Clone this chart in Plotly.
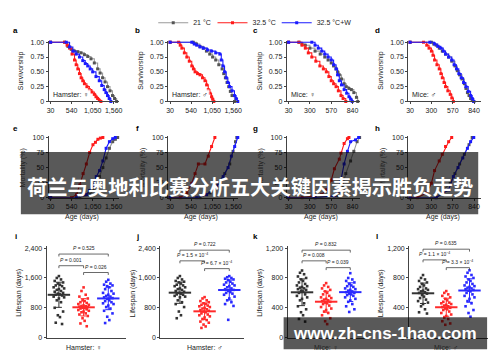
import numpy as np
import plotly.graph_objects as go

# the page body has an 8px margin: the figure is drawn 8px right/down in the 500x362 window
OFF = 8
W, H = 500 - OFF, 362 - OFF
def P(px): return (px - OFF) / W
def Q(py): return 1 - (py - OFF) / H

# ---------------- DATA ----------------
groups = ["21 °C", "32.5 °C", "32.5 °C+W"]
hamster_ticks = [30, 540, 1050, 1560]
hamster_ticktext = ["30", "540", "1,050", "1,560"]
mice_ticks = [30, 300, 570, 840]
mice_ticktext = ["30", "300", "570", "840"]

# survivorship (a-d)
a_21_age = [30, 370, 450, 530, 610, 690, 770, 850, 930, 1010, 1090, 1170, 1230, 1290, 1350, 1410, 1470, 1530, 1580, 1630]
a_21_surv = [1.0, 1.0, 0.93, 0.88, 0.85, 0.84, 0.82, 0.79, 0.76, 0.72, 0.65, 0.55, 0.48, 0.40, 0.33, 0.25, 0.18, 0.10, 0.05, 0.0]
a_325_age = [30, 370, 430, 490, 550, 610, 650, 690, 730, 770, 810, 850, 910, 970, 1030, 1090, 1130, 1170, 1210, 1250]
a_325_surv = [1.0, 1.0, 0.95, 0.90, 0.80, 0.70, 0.62, 0.55, 0.47, 0.40, 0.35, 0.30, 0.25, 0.20, 0.16, 0.12, 0.08, 0.05, 0.02, 0.0]
a_325w_age = [30, 410, 490, 570, 650, 730, 810, 870, 930, 990, 1050, 1130, 1210, 1270, 1330, 1370, 1410, 1450, 1490]
a_325w_surv = [1.0, 1.0, 0.92, 0.85, 0.80, 0.75, 0.69, 0.64, 0.60, 0.55, 0.50, 0.42, 0.35, 0.27, 0.20, 0.15, 0.10, 0.05, 0.0]

b_21_age = [30, 590, 670, 750, 835, 910, 990, 1060, 1135, 1210, 1290, 1330, 1370, 1410, 1450, 1490, 1530, 1590]
b_21_surv = [1, 1, 0.97, 0.93, 0.9, 0.85, 0.8, 0.75, 0.7, 0.62, 0.55, 0.47, 0.4, 0.32, 0.25, 0.17, 0.1, 0]
b_325_age = [30, 235, 275, 315, 375, 435, 495, 555, 595, 635, 695, 755, 815, 875, 915, 955, 995, 1035, 1060, 1090]
b_325_surv = [1, 1, 0.95, 0.9, 0.82, 0.75, 0.68, 0.6, 0.55, 0.5, 0.47, 0.45, 0.4, 0.35, 0.28, 0.2, 0.14, 0.08, 0.04, 0]
b_325w_age = [30, 555, 615, 675, 755, 835, 935, 1035, 1135, 1235, 1270, 1310, 1350, 1390, 1430, 1470, 1530, 1590, 1630, 1670]
b_325w_surv = [1, 1, 0.97, 0.95, 0.92, 0.9, 0.87, 0.85, 0.82, 0.8, 0.7, 0.6, 0.5, 0.4, 0.32, 0.25, 0.18, 0.1, 0.05, 0]

c_21_age = [30, 161, 200, 242, 300, 365, 430, 488, 530, 570, 600, 631, 650, 672, 700, 733, 760, 794, 825, 856, 889, 905]
c_21_surv = [1, 1, 0.97, 0.95, 0.9, 0.85, 0.8, 0.75, 0.7, 0.65, 0.6, 0.55, 0.5, 0.45, 0.38, 0.3, 0.25, 0.22, 0.2, 0.15, 0.07, 0]
c_325_age = [30, 161, 200, 242, 280, 324, 375, 426, 470, 508, 540, 570, 600, 631, 660, 693, 720, 754]
c_325_surv = [1, 1, 0.95, 0.9, 0.82, 0.75, 0.68, 0.6, 0.55, 0.5, 0.42, 0.35, 0.3, 0.25, 0.18, 0.1, 0.05, 0]
c_325w_age = [30, 324, 365, 406, 450, 488, 530, 570, 600, 631, 650, 672, 700, 733, 765, 794, 815, 836]
c_325w_surv = [1, 1, 0.95, 0.9, 0.85, 0.8, 0.75, 0.7, 0.62, 0.55, 0.45, 0.35, 0.28, 0.2, 0.14, 0.08, 0.04, 0]

d_21_age = [30, 300, 330, 360, 400, 438, 478, 518, 558, 598, 628, 657, 687, 717, 737, 756, 776, 796, 816, 836]
d_21_surv = [1, 1, 0.97, 0.95, 0.9, 0.85, 0.8, 0.75, 0.68, 0.6, 0.52, 0.45, 0.38, 0.3, 0.22, 0.15, 0.1, 0.05, 0.03, 0]
d_325_age = [30, 200, 241, 270, 300, 320, 340, 370, 399, 420, 438, 460, 479, 508, 538, 558, 578]
d_325_surv = [1, 1, 0.95, 0.9, 0.85, 0.78, 0.7, 0.62, 0.55, 0.47, 0.4, 0.32, 0.25, 0.18, 0.12, 0.06, 0]
d_325w_age = [30, 280, 340, 380, 418, 450, 479, 518, 557, 587, 617, 647, 677, 707, 736, 766, 796, 816, 836]
d_325w_surv = [1, 1, 0.97, 0.93, 0.9, 0.85, 0.8, 0.75, 0.7, 0.62, 0.55, 0.47, 0.4, 0.32, 0.25, 0.17, 0.1, 0.05, 0]

# mortality (e-h), %
e_21_age = [30, 738, 977, 1057, 1137, 1217, 1297, 1376, 1456, 1536, 1600, 1656]
e_21_mort = [0, 0, 5, 12, 19, 35, 50, 66, 82, 93, 97, 100]
e_325_age = [30, 538, 658, 738, 818, 897, 977, 1057, 1117, 1177, 1237, 1297]
e_325_mort = [0, 0, 5, 21, 40, 56, 75, 88, 92, 97, 99, 100]
e_325w_age = [30, 658, 897, 977, 1057, 1137, 1217, 1297, 1376, 1456, 1536, 1600]
e_325w_mort = [0, 0, 5, 12, 19, 35, 45, 61, 82, 93, 98, 100]

f_21_age = [30, 755, 995, 1195, 1355, 1475, 1555, 1615, 1647]
f_21_mort = [0, 0, 8, 24, 40, 56, 77, 93, 100]
f_325_age = [30, 275, 435, 555, 635, 715, 875, 955, 1035, 1115]
f_325_mort = [0, 0, 8, 24, 40, 56, 56, 69, 85, 100]
f_325w_age = [30, 675, 915, 1155, 1315, 1435, 1515, 1595, 1670]
f_325w_mort = [0, 0, 5, 19, 35, 50, 69, 85, 100]

g_21_age = [30, 365, 652, 713, 754, 815, 856, 897, 929]
g_21_mort = [0, 0, 3, 19, 40, 61, 77, 93, 100]
g_325_age = [30, 202, 447, 508, 570, 610, 672, 693, 733, 775, 794]
g_325_mort = [0, 0, 5, 13, 29, 48, 64, 74, 90, 98, 100]
g_325w_age = [30, 365, 610, 652, 693, 733, 775, 815, 877, 917]
g_325w_mort = [0, 0, 3, 11, 29, 56, 77, 93, 96, 100]

h_21_age = [30, 360, 538, 598, 657, 717, 776, 816]
h_21_mort = [0, 0, 24, 40, 56, 72, 88, 100]
h_325_age = [30, 122, 241, 300, 340, 399, 438, 479, 518, 557]
h_325_mort = [0, 0, 8, 24, 45, 61, 72, 85, 93, 100]
h_325w_age = [30, 360, 518, 578, 637, 697, 756, 796, 836]
h_325w_mort = [0, 0, 13, 35, 50, 66, 82, 93, 100]

# lifespan (i-l), days
i_21 = [1650, 1600, 1560, 1520, 1480, 1450, 1420, 1400, 1380, 1350, 1320, 1300, 1280, 1250, 1230, 1200, 1180, 1160, 1150, 1130, 1100, 1080, 1050, 1000, 950, 800, 700, 600, 550, 400, 365]
i_325 = [1347, 1250, 1150, 1100, 1050, 1000, 980, 950, 930, 900, 880, 860, 850, 840, 830, 820, 800, 790, 780, 760, 740, 720, 700, 680, 650, 620, 580, 520, 450, 380, 305]
i_325w = [1550, 1500, 1450, 1420, 1400, 1380, 1350, 1300, 1250, 1200, 1180, 1150, 1120, 1100, 1080, 1060, 1040, 1000, 980, 950, 920, 900, 860, 820, 780, 720, 650, 560, 470, 391]
j_21 = [1650, 1600, 1560, 1520, 1500, 1480, 1450, 1420, 1400, 1380, 1350, 1320, 1300, 1280, 1250, 1230, 1200, 1180, 1160, 1150, 1120, 1100, 1080, 1000, 950, 900, 820, 700, 600, 520]
j_325 = [1086, 1050, 1000, 980, 950, 920, 900, 880, 860, 840, 820, 800, 780, 760, 740, 720, 700, 680, 650, 620, 600, 570, 540, 500, 470, 430, 400, 350, 300, 260]
j_325w = [1650, 1620, 1600, 1580, 1560, 1540, 1500, 1480, 1450, 1420, 1400, 1380, 1350, 1320, 1300, 1280, 1250, 1220, 1200, 1180, 1150, 1100, 1050, 1000, 950, 900, 850, 477]
k_21 = [900, 870, 850, 820, 800, 780, 760, 740, 720, 700, 690, 680, 670, 660, 650, 640, 630, 620, 600, 580, 560, 540, 520, 500, 460, 420, 380, 340, 300, 250, 215]
k_325 = [731, 700, 680, 660, 640, 620, 600, 580, 560, 540, 530, 520, 510, 500, 490, 480, 470, 460, 450, 430, 410, 390, 370, 350, 330, 300, 260, 220, 181]
k_325w = [864, 800, 780, 760, 740, 720, 700, 690, 680, 660, 650, 640, 630, 620, 610, 600, 590, 580, 570, 560, 540, 520, 500, 480, 450, 420, 380, 344]
l_21 = [839, 800, 780, 760, 740, 720, 700, 680, 660, 650, 640, 630, 620, 610, 600, 590, 570, 550, 530, 510, 490, 470, 450, 420, 380, 340, 323]
l_325 = [624, 600, 580, 560, 540, 520, 500, 480, 470, 460, 450, 440, 430, 420, 410, 400, 390, 380, 370, 350, 330, 310, 290, 270, 250, 220, 190, 172]
l_325w = [903, 870, 840, 820, 800, 780, 760, 740, 720, 700, 690, 680, 670, 660, 650, 640, 630, 620, 600, 580, 560, 540, 520, 490, 460, 420, 370, 330, 280]

hamster_lifespan_ticks = [0, 800, 1600, 2400]
hamster_lifespan_text = ["0", "800", "1,600", "2,400"]
mice_lifespan_ticks = [0, 400, 800, 1200]
mice_lifespan_text = ["0", "400", "800", "1,200"]

p_i = ["0.525", "0.001", "0.026"]
p_j = ["0.722", "1.5 × 10<sup>−4</sup>", "6.7 × 10<sup>−4</sup>"]
p_k = ["0.832", "0.008", "0.039"]
p_l = ["0.635", "1.1 × 10<sup>−4</sup>", "3.3 × 10<sup>−4</sup>"]

# ---------------- STYLE ----------------
FONT = "Liberation Sans, Arial, sans-serif"
line_cols = ["#9a9a9a", "#ff1a1a", "#1a1aff"]
mark_cols = ["#555555", "#ff1a1a", "#1a1aff"]
dot_cols = ["#333333", "#ff2a2a", "#2a2aff"]
AX = "#444444"

fig = go.Figure()

# panel geometry in window pixels
col_x = [(47, 118), (168, 239), (288, 362), (411, 485)]
row1_y = (97, 34.8)   # bottom, top
row2_y = (196, 132.8)
row3_x = [(45, 125, -0.5, 2.7), (160, 245, -0.8, 2.6), (289, 372, -0.6, 2.8), (412, 492, -0.6, 2.8)]
row3_y = (340, 246)

def axname(n):
    return ("x" if n == 1 else f"x{n}"), ("y" if n == 1 else f"y{n}")

def add_axes(n, xdom, ydom, xr, yr, xtv=None, xtt=None, ytv=None, ytt=None):
    common = dict(showline=True, linecolor=AX, linewidth=0.8, ticks="outside", ticklen=2,
                  tickcolor=AX, tickwidth=0.8, showgrid=False, zeroline=False,
                  tickfont=dict(size=7, family=FONT, color="#222"))
    xk = "xaxis" if n == 1 else f"xaxis{n}"
    yk = "yaxis" if n == 1 else f"yaxis{n}"
    xa, ya = axname(n)
    xd = dict(domain=[P(xdom[0]), P(xdom[1])], range=xr, anchor=ya, **common)
    if xtv is not None:
        xd.update(tickmode="array", tickvals=xtv, ticktext=xtt)
    else:
        xd.update(showticklabels=False, ticks="")
    yd = dict(domain=[Q(ydom[0]), Q(ydom[1])], range=yr, anchor=xa,
              tickmode="array", tickvals=ytv, ticktext=ytt, **common)
    fig.update_layout({xk: xd, yk: yd})

surv_sets = [
    [(a_21_age, a_21_surv), (a_325_age, a_325_surv), (a_325w_age, a_325w_surv)],
    [(b_21_age, b_21_surv), (b_325_age, b_325_surv), (b_325w_age, b_325w_surv)],
    [(c_21_age, c_21_surv), (c_325_age, c_325_surv), (c_325w_age, c_325w_surv)],
    [(d_21_age, d_21_surv), (d_325_age, d_325_surv), (d_325w_age, d_325w_surv)],
]
mort_sets = [
    [(e_21_age, e_21_mort), (e_325_age, e_325_mort), (e_325w_age, e_325w_mort)],
    [(f_21_age, f_21_mort), (f_325_age, f_325_mort), (f_325w_age, f_325w_mort)],
    [(g_21_age, g_21_mort), (g_325_age, g_325_mort), (g_325w_age, g_325w_mort)],
    [(h_21_age, h_21_mort), (h_325_age, h_325_mort), (h_325w_age, h_325w_mort)],
]
life_sets = [
    [i_21, i_325, i_325w], [j_21, j_325, j_325w], [k_21, k_325, k_325w], [l_21, l_325, l_325w]
]
p_sets = [p_i, p_j, p_k, p_l]
species = ["Hamster: ♀", "Hamster: ♂", "Mice: ♀", "Mice: ♂"]
legend_ids = ["legend", "legend2", "legend3"]

hx_range = [-20, 1680]
mx_range = [5, 930]

for c in range(4):
    ham = c < 2
    xr = hx_range if ham else mx_range
    tv = hamster_ticks if ham else mice_ticks
    tt = hamster_ticktext if ham else mice_ticktext
    # row 1
    n = c + 1
    add_axes(n, col_x[c], row1_y, xr, [0, 1.02], tv, tt,
             [0, 0.25, 0.5, 0.75, 1.0], ["0", "0.25", "0.50", "0.75", "1.00"])
    xa, ya = axname(n)
    for g in range(3):
        ages, vals = surv_sets[c][g]
        fig.add_trace(go.Scatter(x=ages, y=vals, mode="lines+markers", line_shape="hv",
                                 line=dict(color=line_cols[g], width=1.1),
                                 marker=dict(symbol="square", size=3, color=mark_cols[g]),
                                 xaxis=xa, yaxis=ya, cliponaxis=False,
                                 name=groups[g], showlegend=(c == 0), legend=legend_ids[g]))
    # row 2
    n = c + 5
    add_axes(n, col_x[c], row2_y, xr, [0, 102], tv, tt,
             [0, 25, 50, 75, 100], ["0", "25", "50", "75", "100"])
    xa, ya = axname(n)
    for g in range(3):
        ages, vals = mort_sets[c][g]
        fig.add_trace(go.Scatter(x=ages, y=vals, mode="lines+markers",
                                 line=dict(color=line_cols[g], width=1.1),
                                 marker=dict(symbol="square", size=3, color=mark_cols[g]),
                                 xaxis=xa, yaxis=ya, cliponaxis=False, showlegend=False))
    # row 3
    n = c + 9
    x0, x1, r0, r1 = row3_x[c]
    ytv = hamster_lifespan_ticks if ham else mice_lifespan_ticks
    ytt = hamster_lifespan_text if ham else mice_lifespan_text
    add_axes(n, (x0, x1), row3_y, [r0, r1], [0, 2450 if ham else 1225], None, None, ytv, ytt)
    xa, ya = axname(n)
    pattern = [0, -1, 1, -2, 2, -0.5, 0.5, -1.5, 1.5, -2.5, 2.5]
    for g in range(3):
        vals = life_sets[c][g]
        xs = [g + pattern[i % len(pattern)] * 0.085 for i in range(len(vals))]
        fig.add_trace(go.Scatter(x=xs, y=vals, mode="markers",
                                 marker=dict(symbol="square", size=2.6, color=dot_cols[g]),
                                 xaxis=xa, yaxis=ya, showlegend=False, cliponaxis=False))
        m = float(np.mean(vals)); s = float(np.std(vals))
        fig.add_trace(go.Scatter(x=[g], y=[m], mode="markers",
                                 marker=dict(symbol="line-ew", size=16,
                                             line=dict(color=dot_cols[g], width=2)),
                                 error_y=dict(type="data", array=[s], color=dot_cols[g],
                                              thickness=1, width=3),
                                 xaxis=xa, yaxis=ya, showlegend=False, cliponaxis=False))

annotations = []
shapes = []

def ann(px, py, text, size=7, color="#222", bold=False, xanchor="center", angle=0, family=FONT, **kw):
    annotations.append(dict(x=P(px), y=Q(py), xref="paper", yref="paper", text=(f"<b>{text}</b>" if bold else text),
                            showarrow=False, xanchor=xanchor, yanchor="middle", textangle=angle,
                            font=dict(size=size, color=color, family=family), **kw))

letters = ["a", "b", "c", "d", "e", "f", "g", "h", "i", "j", "k", "l"]
lx = [14, 137, 257, 380]
for c in range(4):
    ann(lx[c], 24, letters[c], size=8, bold=True, color="#000")
    ann(lx[c], 125, letters[c + 4], size=8, bold=True, color="#000")
    ann(lx[c], 236, letters[c + 8], size=8, bold=True, color="#000")
    ax0 = col_x[c][0]
    ann(ax0 - 27, 65, "Survivorship", size=7, angle=-90)
    ann(ax0 - 26, 165, "Mortality (%)", size=7, angle=-90)
    ann(ax0 + 2, 90, species[c], size=7, xanchor="left", bgcolor="rgba(255,255,255,0.8)")
    ann((col_x[c][0] + col_x[c][1]) / 2 - 2, 216, "Age (days)", size=7)
    x0, x1, r0, r1 = row3_x[c]
    ann(x0 - 28, 294, "Lifespan (days)", size=7, angle=-90)
    xa, ya = axname(c + 9)
    annotations.append(dict(x=1, y=Q(350), xref=xa, yref="paper", text=species[c], showarrow=False,
                            font=dict(size=7, family=FONT, color="#222"), yanchor="middle"))

# significance brackets (row 3)
br_y = [[254, 266, 273], [250, 261, 269], [250, 261, 268], [249, 260, 268]]
pairs = [(0, 2), (0, 1), (1, 2)]
for c in range(4):
    xa, ya = axname(c + 9)
    for k, (g0, g1) in enumerate(pairs):
        yb = br_y[c][k]
        shapes.append(dict(type="path", xref=xa, yref="paper",
                           path=f"M {g0},{Q(yb + 2.5)} L {g0},{Q(yb)} L {g1},{Q(yb)} L {g1},{Q(yb + 2.5)}",
                           line=dict(color="#444", width=0.8)))
        annotations.append(dict(x=(g0 + g1) / 2, y=Q(yb - 1), xref=xa, yref="paper",
                                text=f"<i>P</i> = {p_sets[c][k]}", showarrow=False, yanchor="bottom",
                                font=dict(size=5, family=FONT, color="#222")))

# overlay banners
shapes.append(dict(type="rect", xref="paper", yref="paper", x0=P(19), x1=P(482), y0=Q(213), y1=Q(149),
                   fillcolor="rgba(0,0,0,0.65)", line=dict(width=0), layer="above"))
shapes.append(dict(type="rect", xref="paper", yref="paper", x0=P(285), x1=P(491), y0=Q(352), y1=Q(319),
                   fillcolor="rgba(0,0,0,0.65)", line=dict(width=0), layer="above"))
ann(250.5, 184, "荷兰与奥地利比赛分析五大关键因素揭示胜负走势", size=20.3, color="#ffffff", bold=True,
    family="Noto Sans CJK SC, sans-serif")
ann(388, 336, "www.zh-cns-1hao.com", size=17, color="#ffffff", bold=True, family=FONT)

leg_common = dict(orientation="h", y=Q(1), xanchor="left", yanchor="top",
                  font=dict(size=7, family=FONT, color="#222"), itemwidth=30,
                  bgcolor="rgba(0,0,0,0)")
leg_x = [153, 213, 278]

fig.update_layout(
    width=W, height=H, margin=dict(l=0, r=0, t=0, b=0),
    paper_bgcolor="white", plot_bgcolor="white",
    annotations=annotations, shapes=shapes,
    showlegend=True,
    legend=dict(x=P(leg_x[0]), **leg_common),
    legend2=dict(x=P(leg_x[1]), **leg_common),
    legend3=dict(x=P(leg_x[2]), **leg_common),
)

fig.write_html("out.html")
